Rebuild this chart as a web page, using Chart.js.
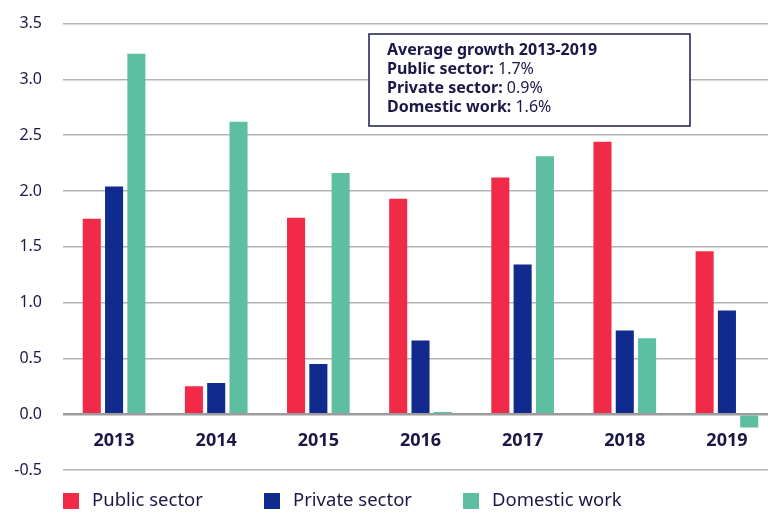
<!DOCTYPE html>
<html>
<head>
<meta charset="utf-8">
<script src="https://cdn.jsdelivr.net/npm/chart.js@4/dist/chart.umd.min.js"></script>
<style>
  html, body { margin: 0; padding: 0; background: #fff; overflow: hidden; }
  #wrap { width: 778px; height: 512px; }
</style>
</head>
<body>
<div id="wrap"><canvas id="growthChart" width="778" height="512"></canvas></div>
<script>
const years = ['2013', '2014', '2015', '2016', '2017', '2018', '2019'];
const publicSector = [1.75, 0.25, 1.76, 1.93, 2.12, 2.44, 1.46];
const privateSector = [2.04, 0.28, 0.45, 0.66, 1.34, 0.75, 0.93];
const domesticWork = [3.23, 2.62, 2.16, 0.02, 2.31, 0.68, -0.12];
const seriesNames = ['Public sector', 'Private sector', 'Domestic work'];
const seriesColors = ['#f12a47', '#102a8e', '#5dbea1'];
const boxTitle = 'Average growth 2013-2019';

const ink = '#1b1746';
const fontFamily = '"Noto Sans", "Open Sans", sans-serif';

const avg = arr => arr.reduce((a, b) => a + b, 0) / arr.length;

// Summary box with the average of each series
const averageBox = {
    id: 'averageBox',
    afterDraw(chart) {
        const { ctx } = chart;
        const x = 369, y = 34, w = 321, h = 92;
        ctx.save();
        ctx.fillStyle = '#fff';
        ctx.fillRect(x, y, w, h);
        ctx.strokeStyle = '#2a2858';
        ctx.lineWidth = 1.6;
        ctx.strokeRect(x, y, w, h);

        ctx.fillStyle = ink;
        ctx.textBaseline = 'middle';
        ctx.textAlign = 'left';
        const tx = 387;
        let ty = 50;
        ctx.font = `bold 16px ${fontFamily}`;
        ctx.fillText(boxTitle, tx, ty);
        chart.data.datasets.forEach(ds => {
            ty += 19.3;
            const head = ds.label + ': ';
            ctx.font = `bold 16px ${fontFamily}`;
            ctx.fillText(head, tx, ty);
            const hw = ctx.measureText(head).width;
            ctx.font = `16px ${fontFamily}`;
            ctx.fillText(avg(ds.data).toFixed(1) + '%', tx + hw, ty);
        });
        ctx.restore();
    }
};

// Legend row along the bottom
const legendRow = {
    id: 'legendRow',
    afterDraw(chart, args, opts) {
        const { ctx } = chart;
        ctx.save();
        ctx.font = `${opts.fontSize}px ${fontFamily}`;
        ctx.textBaseline = 'middle';
        chart.data.datasets.forEach((ds, i) => {
            const bx = opts.xs[i];
            ctx.fillStyle = ds.backgroundColor;
            ctx.fillRect(bx, opts.y - 8, 16, 16);
            ctx.fillStyle = ink;
            ctx.fillText(ds.label, bx + 29, opts.y);
        });
        ctx.restore();
    }
};

const datasets = [publicSector, privateSector, domesticWork].map((data, i) => ({
    label: seriesNames[i],
    data: data,
    backgroundColor: seriesColors[i],
    categoryPercentage: 0.655,
    barPercentage: 0.81
}));

// keep the axes from reserving extra room around the plot
const noPadding = scale => {
    scale.paddingTop = 0;
    scale.paddingBottom = 0;
    scale.paddingLeft = 0;
    scale.paddingRight = 0;
};

new Chart(document.getElementById('growthChart'), {
    type: 'bar',
    data: { labels: years, datasets: datasets },
    options: {
        responsive: false,
        animation: false,
        layout: { padding: { top: 23.5, bottom: 42, left: 0, right: 0 } },
        plugins: {
            legend: { display: false },
            tooltip: { enabled: false },
            legendRow: { xs: [63, 264, 463], y: 501, fontSize: 18.5 }
        },
        scales: {
            x: {
                position: { y: 0 },
                afterFit: noPadding,
                grid: { display: false },
                border: { display: false },
                ticks: {
                    color: ink,
                    font: { family: fontFamily, size: 18, weight: 'bold' },
                    padding: 8,
                    maxRotation: 0
                }
            },
            y: {
                min: -0.5,
                max: 3.5,
                afterFit: scale => { noPadding(scale); scale.width = 63; },
                border: { display: false },
                grid: {
                    drawTicks: false,
                    color: c => c.tick && c.tick.value === 0 ? '#9c9c9c' : '#b4b4b4',
                    lineWidth: c => c.tick && c.tick.value === 0 ? 2.6 : 1.6
                },
                ticks: {
                    stepSize: 0.5,
                    padding: 21,
                    color: ink,
                    font: { family: fontFamily, size: 16 },
                    callback: v => v.toFixed(1)
                }
            }
        }
    },
    plugins: [averageBox, legendRow]
});
</script>
</body>
</html>
